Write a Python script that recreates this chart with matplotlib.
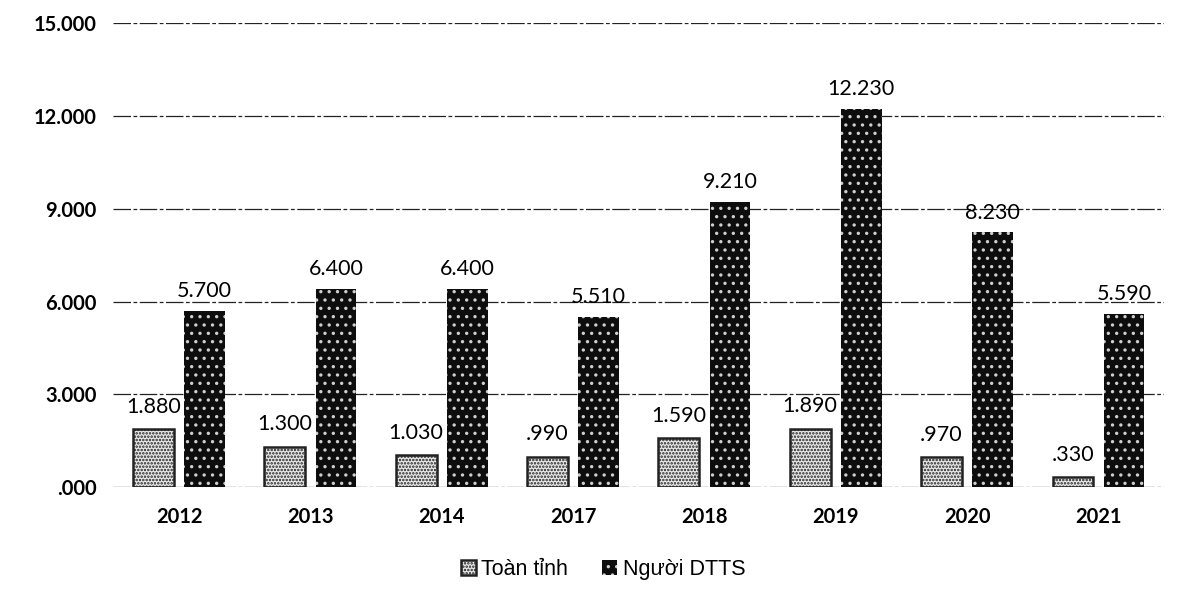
import matplotlib.pyplot as plt
import numpy as np

# data
years = ['2012', '2013', '2014', '2017', '2018', '2019', '2020', '2021']
toan_tinh = [1880, 1300, 1030, 990, 1590, 1890, 970, 330]
nguoi_dtts = [5700, 6400, 6400, 5510, 9210, 12230, 8230, 5590]
toan_tinh_labels = ['1.880', '1.300', '1.030', '.990', '1.590', '1.890', '.970', '.330']
dtts_labels = ['5.700', '6.400', '6.400', '5.510', '9.210', '12.230', '8.230', '5.590']
y_ticks = [0, 3000, 6000, 9000, 12000, 15000]
y_tick_labels = ['.000', '3.000', '6.000', '9.000', '12.000', '15.000']

plt.rcParams['hatch.linewidth'] = 1.2

fig = plt.figure(figsize=(11.94, 6.03), dpi=100)
ax = fig.add_axes([0.095, 0.192, 0.88, 0.77])

x = np.arange(len(years))
w = 0.31
off = 0.195

b1 = ax.bar(x - off, toan_tinh, w, facecolor='#e8e8e8', edgecolor='#222222',
            hatch='.....', linewidth=1.8, label='Toàn tỉnh', zorder=3)
b2 = ax.bar(x + off, nguoi_dtts, w, facecolor='#0d0d0d', edgecolor='#cfcfcf',
            hatch='..', linewidth=0, label='Người DTTS', zorder=3)

for xi, v, s in zip(x - off, toan_tinh, toan_tinh_labels):
    ax.annotate(s, (xi, v), xytext=(0, 9), textcoords='offset points',
                ha='center', va='bottom', fontsize=15.5, family='Lato')
for xi, v, s in zip(x + off, nguoi_dtts, dtts_labels):
    ax.annotate(s, (xi, v), xytext=(0, 7), textcoords='offset points',
                ha='center', va='bottom', fontsize=15.5, family='Lato')

ax.set_ylim(0, 15000)
ax.set_xlim(-0.5, len(years) - 0.5)
ax.set_yticks(y_ticks)
ax.set_yticklabels(y_tick_labels, fontsize=14.5, family='Lato', fontweight='bold')
ax.set_xticks(x)
ax.set_xticklabels(years, fontsize=14.5, family='Lato', fontweight='bold')
ax.tick_params(length=0, pad=12)
ax.tick_params(axis='x', pad=14)

ax.yaxis.grid(True, color='#222222', linestyle=(0, (14, 2, 3, 2)), linewidth=0.9, zorder=0)
for s in ax.spines.values():
    s.set_visible(False)

# chú thích ở dưới
fig.legend(handles=[b1, b2], loc='center', bbox_to_anchor=(0.505, 0.055), ncol=2, frameon=False,
           prop={'family': 'Liberation Sans', 'size': 15.5}, handlelength=0.7,
           handleheight=0.7, handletextpad=0.25, columnspacing=1.6)

fig.savefig('out.png', dpi=100)
